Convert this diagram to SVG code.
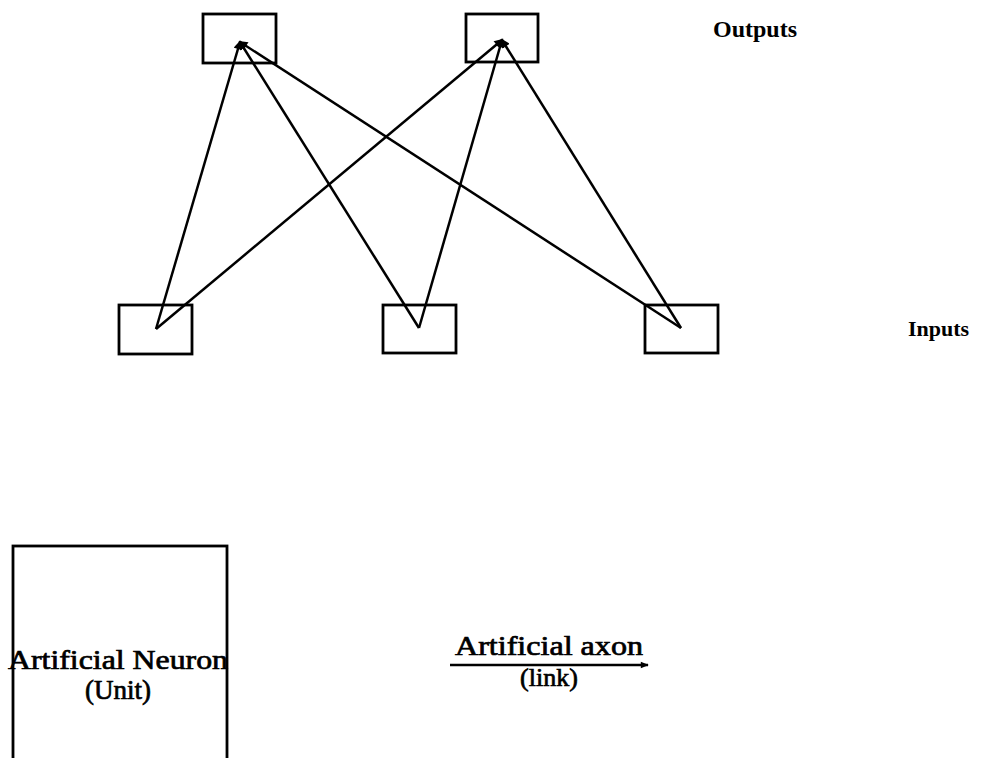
<svg xmlns="http://www.w3.org/2000/svg" width="990" height="758" viewBox="0 0 990 758">
<defs>
<style>
.box{fill:none;stroke:#000;stroke-width:2.8}
.link{stroke:#000;stroke-width:2.5;fill:none}
.lbl{font-family:"Liberation Serif","Times New Roman",serif;fill:#000}
.big{stroke:#000;stroke-width:0.7}
</style>
<marker id="ah" viewBox="0 0 10 10" refX="8" refY="5" markerWidth="10" markerHeight="9" orient="auto" markerUnits="userSpaceOnUse">
<path d="M0,0 L10,5 L0,10 z" fill="#000"/>
</marker>
<marker id="ah2" viewBox="0 0 10 10" refX="9" refY="5" markerWidth="10" markerHeight="8" orient="auto" markerUnits="userSpaceOnUse">
<path d="M0,1 L10,5 L0,9 z" fill="#000"/>
</marker>
</defs>
<rect width="990" height="758" fill="#fff"/>
<g id="out1"><rect class="box" x="203" y="14" width="73" height="49"/></g>
<g id="out2"><rect class="box" x="466" y="14" width="72" height="48"/></g>
<g id="in1"><rect class="box" x="119" y="305" width="73" height="49"/></g>
<g id="in2"><rect class="box" x="383" y="305" width="73" height="48"/></g>
<g id="in3"><rect class="box" x="645" y="305" width="73" height="48"/></g>
<g id="connectors">
<line class="link" x1="156" y1="329" x2="240" y2="42" marker-end="url(#ah)"/>
<line class="link" x1="419" y1="328" x2="240" y2="42" marker-end="url(#ah)"/>
<line class="link" x1="681" y1="328" x2="240" y2="42" marker-end="url(#ah)"/>
<line class="link" x1="156" y1="329" x2="502" y2="40" marker-end="url(#ah)"/>
<line class="link" x1="419" y1="328" x2="502" y2="40" marker-end="url(#ah)"/>
<line class="link" x1="681" y1="328" x2="502" y2="40" marker-end="url(#ah)"/>
</g>
<g id="labels">
<text class="lbl" x="713" y="37" font-size="24" font-weight="bold">Outputs</text>
<text class="lbl" x="908" y="336" font-size="22" font-weight="bold">Inputs</text>
</g>
<g id="neuron">
<rect class="box" x="13" y="546" width="214" height="230"/>
<text class="lbl big" x="118" y="669" font-size="27" text-anchor="middle" textLength="220" lengthAdjust="spacingAndGlyphs">Artificial Neuron</text>
<text class="lbl big" x="118" y="699" font-size="27" text-anchor="middle">(Unit)</text>
</g>
<g id="axon">
<line class="link" x1="450" y1="665" x2="648" y2="665" marker-end="url(#ah2)"/>
<text class="lbl big" x="549" y="655" font-size="27" text-anchor="middle" textLength="188" lengthAdjust="spacingAndGlyphs">Artificial axon</text>
<text class="lbl big" x="549" y="686" font-size="26" text-anchor="middle">(link)</text>
</g>
</svg>
